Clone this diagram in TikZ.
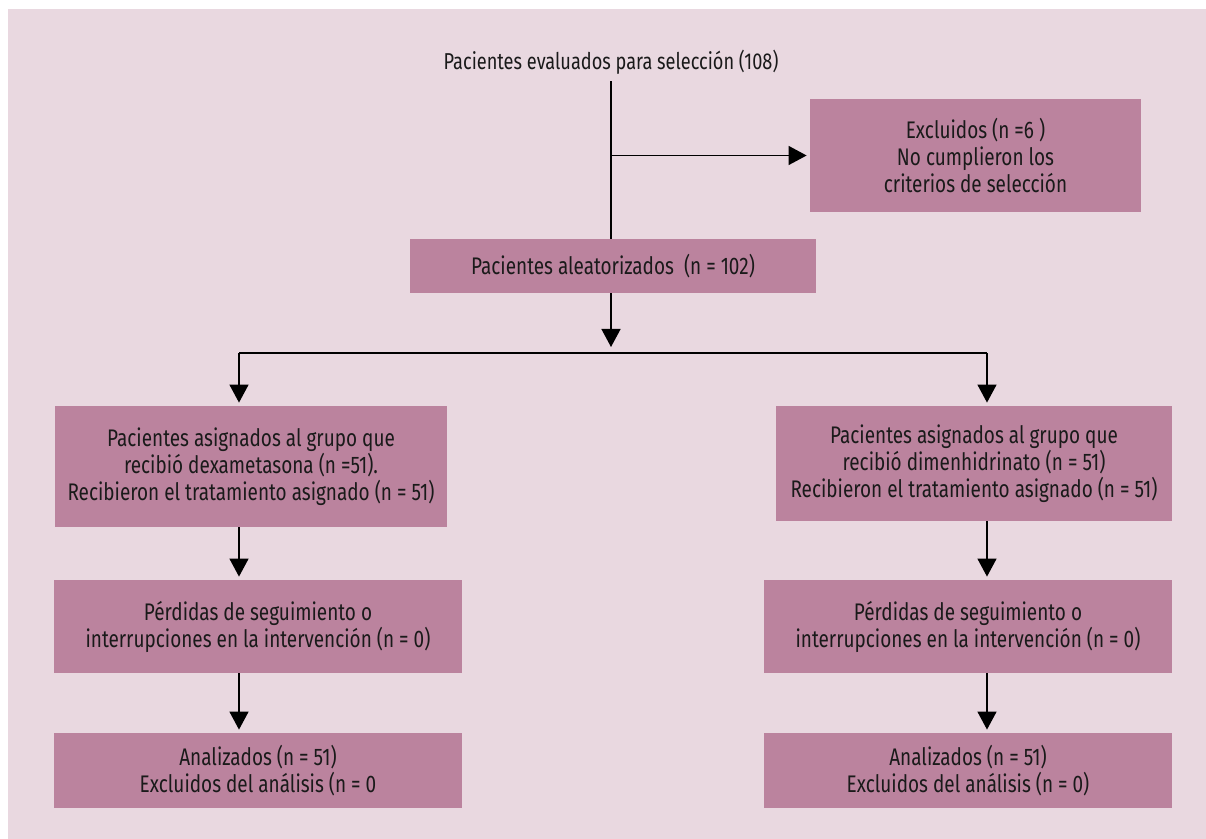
\documentclass[tikz,border=0pt]{standalone}
\usepackage{fontspec}
\setmainfont{Fira Sans}[FakeStretch=0.79]
\usepackage{tikz}
\usetikzlibrary{positioning,arrows.meta}
\definecolor{bgpink}{HTML}{E9D8E0}
\definecolor{boxmauve}{HTML}{BB839E}
\definecolor{txtdark}{HTML}{1A1A1A}

\begin{document}
\begin{tikzpicture}[
    x=0.5pt, y=-0.5pt,
    every node/.style={font=\fontsize{12}{13.5}\selectfont, text=txtdark},
    boxnode/.style={fill=boxmauve, align=center, inner sep=0pt},
    widebox/.style={boxnode, minimum width=204pt},
    arrow/.style={-{Triangle[length=9pt, width=9.5pt]}, line width=0.7pt, shorten >=1.5pt},
    plainline/.style={line width=0.7pt}
]

% Background panel
\useasboundingbox (0,0) rectangle (1206,839);
\fill[bgpink] (8,9) rectangle (1206,839);

% Enrolment
\node[font=\fontsize{11.5}{13.5}\selectfont] (eval) at (611,62) {Pacientes evaluados para selección (108)};
\node[boxnode, minimum width=165.5pt, minimum height=56.5pt] (excl) at (975.5,155.5)
    {Excluidos (n =6 )\\No cumplieron los\\criterios de selección};
\node[boxnode, minimum width=203pt, minimum height=27pt] (rand) at (613,266)
    {Pacientes aleatorizados \ (n = 102)};

% Allocation
\node[boxnode, minimum width=196pt, minimum height=60.5pt] (dexa) at (251,466.5)
    {Pacientes asignados al grupo que\\recibió dexametasona (n =51).\\Recibieron el tratamiento asignado (n = 51)};
\node[boxnode, minimum width=198pt, minimum height=57.5pt] (dime) at (974,463.5)
    {Pacientes asignados al grupo que\\recibió dimenhidrinato (n = 51)\\Recibieron el tratamiento asignado (n = 51)};

% Follow-up
\node[widebox, minimum height=46.5pt] (lostL) at (258,626.5)
    {Pérdidas de seguimiento o\\interrupciones en la intervención (n = 0)};
\node[widebox, minimum height=46.5pt] (lostR) at (968,626.5)
    {Pérdidas de seguimiento o\\interrupciones en la intervención (n = 0)};

% Analysis
\node[widebox, minimum height=37.5pt] (analL) at (258,770.5)
    {Analizados (n = 51)\\Excluidos del análisis (n = 0};
\node[widebox, minimum height=37.5pt] (analR) at (968,770.5)
    {Analizados (n = 51)\\Excluidos del análisis (n = 0)};

% Junction points
\coordinate (split) at (611,353);
\coordinate (leftsplit) at (239,353);
\coordinate (rightsplit) at (987,353);

% Connectors
\draw[plainline] (eval.south) -- (eval.south |- rand.north);
\draw[arrow] (eval.south |- excl.west) -- (excl.west);
\draw[arrow, shorten >=3pt] (split |- rand.south) -- (split);
\draw[plainline] (leftsplit) -- (rightsplit);
\draw[arrow] (leftsplit) -- (leftsplit |- dexa.north);
\draw[arrow] (rightsplit) -- (rightsplit |- dime.north);
\draw[arrow] (leftsplit |- dexa.south) -- (leftsplit |- lostL.north);
\draw[arrow] (rightsplit |- dime.south) -- (rightsplit |- lostR.north);
\draw[arrow] (leftsplit |- lostL.south) -- (leftsplit |- analL.north);
\draw[arrow] (rightsplit |- lostR.south) -- (rightsplit |- analR.north);

\end{tikzpicture}
\end{document}
